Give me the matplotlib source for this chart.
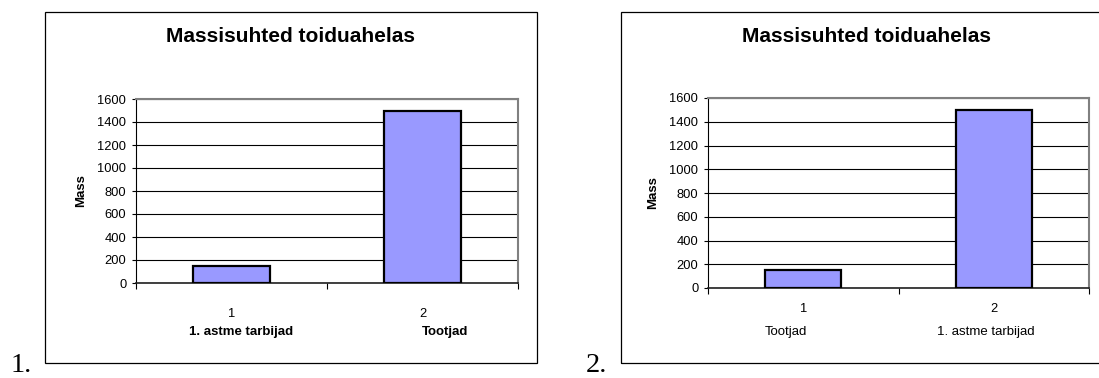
import matplotlib
matplotlib.use("Agg")
import matplotlib.pyplot as plt
from matplotlib.patches import Rectangle

plt.rcParams['font.family'] = ['Liberation Sans', 'DejaVu Sans']

# data
title = "Massisuhted toiduahelas"
ylabel = "Mass"
tick_labels = ["1", "2"]
names_1 = ["1. astme tarbijad", "Tootjad"]
values_1 = [150, 1500]
names_2 = ["Tootjad", "1. astme tarbijad"]
values_2 = [150, 1500]
yticks = [0, 200, 400, 600, 800, 1000, 1200, 1400, 1600]

W, H = 1099, 378
fig = plt.figure(figsize=(W / 100, H / 100), dpi=100)


def box(l, t, r, b):
    # pixel box (left, top, right, bottom) -> figure fractions
    return [l / W, 1 - b / H, (r - l) / W, (b - t) / H]


def panel(rect, names, values, bold_names, name_shift, tick_pad, name_y):
    ax = fig.add_axes(box(*rect))
    x = [1, 2]
    ax.bar(x, values, width=0.4, color="#9999ff", edgecolor="black",
           linewidth=1.6, zorder=3)
    ax.set_xlim(0.5, 2.5)
    ax.set_ylim(0, 1600)
    ax.set_yticks(yticks)
    ax.yaxis.grid(True, color="black", linewidth=0.8, zorder=1)
    ax.set_axisbelow(True)
    ax.set_xticks(x, tick_labels)
    ax.set_xticks([0.5, 1.5, 2.5], minor=True)
    ax.tick_params(axis="x", which="major", length=0, pad=tick_pad, labelsize=9.3)
    ax.tick_params(axis="x", which="minor", length=4, width=0.8, direction="out")
    ax.tick_params(axis="y", length=3, width=0.8, pad=4, labelsize=9.3)
    for s in ("top", "right"):
        ax.spines[s].set_color("#808080")
        ax.spines[s].set_linewidth(1.5)
    ax.spines["left"].set_linewidth(0.8)
    ax.spines["bottom"].set_linewidth(1.2)
    ax.spines["bottom"].set_color("#202020")
    ax.set_ylabel(ylabel, fontsize=9.5, fontweight="bold", labelpad=7)
    tr = ax.get_xaxis_transform()
    for xi, name, dx in zip(x, names, name_shift):
        ax.text(xi + dx, name_y, name, transform=tr, ha="center", va="center",
                fontsize=9.5, fontweight="bold" if bold_names else "normal")
    return ax


# outer frames
for l, t, r, b in [(45, 12, 537, 363), (621, 12, 1110, 363)]:
    fig.add_artist(Rectangle((l / W, 1 - b / H), (r - l) / W, (b - t) / H,
                             transform=fig.transFigure, fill=False,
                             edgecolor="black", linewidth=0.9))

panel((136, 99, 518, 283), names_1, values_1, True, [0.05, 0.12], 18, -0.265)
panel((708, 98, 1089, 288), names_2, values_2, False, [-0.09, -0.04], 11, -0.23)

fig.text(291 / W, 1 - 37 / H, title, ha="center", va="center",
         fontsize=15, fontweight="bold")
fig.text(866 / W, 1 - 37 / H, title, ha="center", va="center",
         fontsize=15, fontweight="bold")

fig.text(11 / W, 1 - 372 / H, "1.", fontsize=20.5, family="Liberation Serif",
         ha="left", va="baseline")
fig.text(586 / W, 1 - 372 / H, "2.", fontsize=20.5, family="Liberation Serif",
         ha="left", va="baseline")

fig.savefig("out.png", dpi=100)
